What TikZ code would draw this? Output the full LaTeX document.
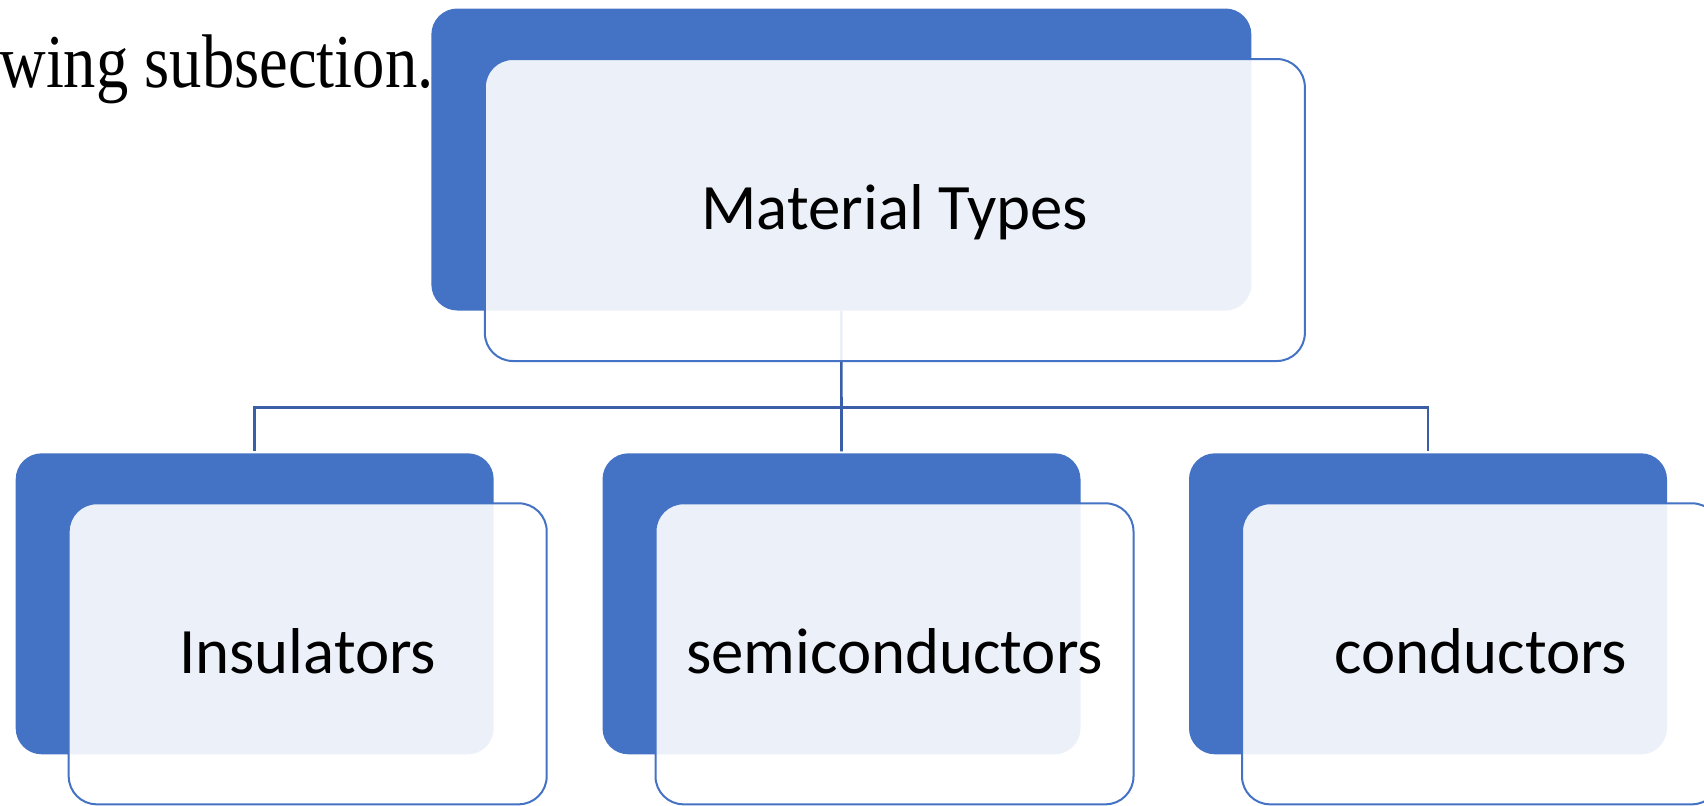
\documentclass[tikz,border=0pt]{standalone}
\usepackage{fontspec}
\setmainfont{Liberation Serif}
\newfontfamily\calib{Carlito}
\definecolor{accblue}{HTML}{4472C4}
\definecolor{connblue}{HTML}{3A5EA8}
\begin{document}
\begin{tikzpicture}[x=0.5pt,y=-0.5pt,
  backbox/.style={fill=accblue, draw=none, rounded corners=13pt, inner sep=0pt, outer sep=0pt},
  frontbox/.style={fill=white, fill opacity=0.9, text opacity=1, draw=accblue, draw opacity=1,
    line width=1pt, rounded corners=14pt, inner sep=0pt, outer sep=0pt,
    text height=19.4pt, text depth=0pt, font=\calib\fontsize{32.4}{38}\selectfont},
  bigsize/.style={minimum width=410pt, minimum height=151pt},
  smallsize/.style={minimum width=239pt, minimum height=150.5pt},
  conn/.style={draw=connblue, line width=1.3pt}]
\useasboundingbox (0,0) rectangle (1704,805);
% lead-in text
\node[anchor=base east, inner sep=0pt, font=\fontsize{38}{45}\selectfont] (lead) at (434,87) {\scalebox{0.85}[1]{wing subsection.}};
% back boxes
\node[backbox, bigsize] (topb) at (841.35,159.5) {};
\node[backbox, smallsize] (insb) at (254.7,603.8) {};
\node[backbox, smallsize] (semib) at (841.5,603.8) {};
\node[backbox, smallsize] (conb) at (1428,603.8) {};
% connectors
\coordinate (bus) at (841.4,407.3);
\draw[conn] (topb.south) -- ([yshift=1pt]semib.north);
\draw[conn] ([yshift=1pt]insb.north) |- (bus) -| ([yshift=1pt]conb.north);
% front boxes
\node[frontbox, bigsize] (topf) at (894.85,210) {Material Types};
\node[frontbox, smallsize] (insf) at (307.7,653.8) {Insulators};
\node[frontbox, smallsize] (semif) at (894.5,653.8) {semiconductors};
\node[frontbox, smallsize] (conf) at (1481,653.8) {conductors};
\end{tikzpicture}
\end{document}
